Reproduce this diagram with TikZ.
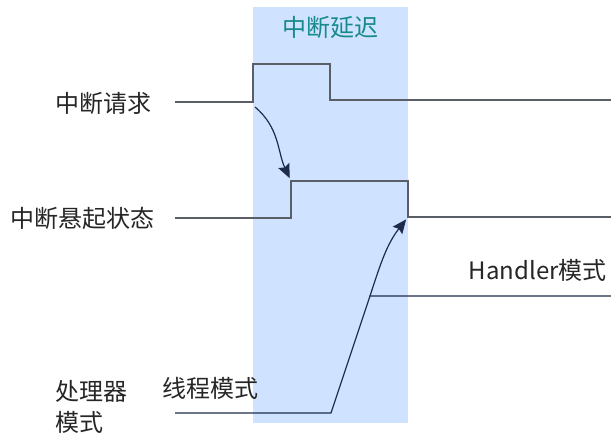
\documentclass[tikz,border=0pt]{standalone}
\usepackage{fontspec}
\usepackage{xcolor}
\usetikzlibrary{arrows.meta}
\setmainfont{Noto Sans CJK SC}
\definecolor{fondo}{RGB}{207,226,255}
\definecolor{titulo}{RGB}{22,138,138}
\definecolor{gris}{RGB}{90,94,102}
\definecolor{marino}{RGB}{30,44,74}
\tikzset{
  senal/.style={gris, line width=1.4pt},
  causa/.style={marino, line width=1.2pt, shorten >=3pt, -{Stealth[length=14pt,width=12pt,inset=2pt]}},
  etiqueta/.style={font=\fontsize{24}{31}\selectfont, text=black!85, inner sep=0pt},
}
\begin{document}
\begin{tikzpicture}[x=1pt, y=-1pt]
  \useasboundingbox (0,0) rectangle (611,437);
  % ventana de latencia
  \fill[fondo] (253,7) rectangle (408,423);
  \node[etiqueta, text=titulo] (latencia) at (330,27) {中断延迟};
  % petición
  \coordinate (p0) at (175,102);
  \coordinate (p1) at (253,102);
  \coordinate (p2) at (253,64);
  \coordinate (p3) at (330,64);
  \coordinate (p4) at (330,100);
  \coordinate (p5) at (611,100);
  \draw[senal] (p0) -- (p1) -- (p2) -- (p3) -- (p4) -- (p5);
  \node[etiqueta, anchor=west] (peticion) at (55,103) {中断请求};
  % pendiente
  \coordinate (q0) at (175,218);
  \coordinate (q1) at (291,218);
  \coordinate (q2) at (291,181);
  \coordinate (q3) at (408,181);
  \coordinate (q4) at (408,217);
  \coordinate (q5) at (611,217);
  \draw[senal] (q0) -- (q1) -- (q2) -- (q3) -- (q4) -- (q5);
  \node[etiqueta, anchor=west] (pendiente) at (10,218) {中断悬起状态};
  % modo
  \coordinate (m0) at (175,413);
  \coordinate (m1) at (331,413);
  \coordinate (m2) at (370,296);
  \coordinate (m3) at (611,296);
  \draw[marino, line width=1.2pt] (m0) -- (m1) -- (m2) -- (m3);
  \node[etiqueta, anchor=east] (handler) at (607,270) {Handler模式};
  \node[etiqueta, anchor=west] (hilo) at (162,388) {线程模式};
  \node[etiqueta, anchor=west, align=left] (modo) at (55,407)
    {处理器\\模式};
  % causalidad
  \draw[causa] (255,107) to[out=-40, in=115] (q2);
  \draw[causa] (m2) to[out=72, in=-128] (q4);
\end{tikzpicture}
\end{document}
